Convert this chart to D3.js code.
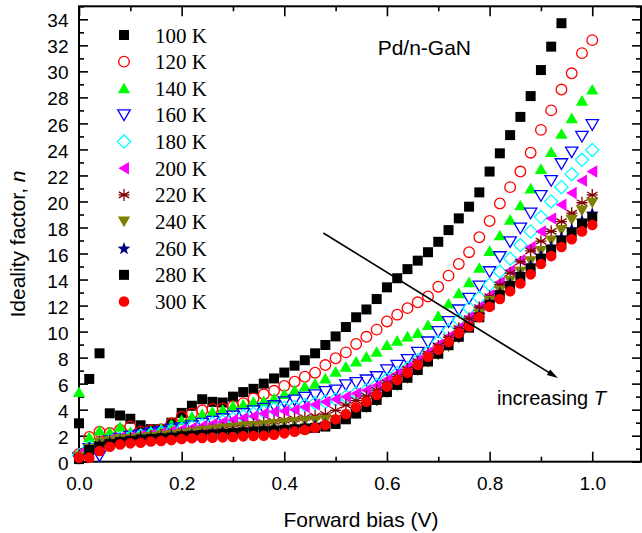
<!DOCTYPE html>
<html>
<head>
<meta charset="utf-8">
<script src="https://cdn.jsdelivr.net/npm/d3@7"></script>
<style>
  body { margin: 0; background: #fff; }
  svg { display: block; }
</style>
</head>
<body>
<svg id="chart" width="642" height="533"></svg>
<script>
// Forward bias grid (V)
const bias = [0.00, 0.02, 0.04, 0.06, 0.08, 0.10, 0.12, 0.14, 0.16, 0.18,
              0.20, 0.22, 0.24, 0.26, 0.28, 0.30, 0.32, 0.34, 0.36, 0.38,
              0.40, 0.42, 0.44, 0.46, 0.48, 0.50, 0.52, 0.54, 0.56, 0.58,
              0.60, 0.62, 0.64, 0.66, 0.68, 0.70, 0.72, 0.74, 0.76, 0.78,
              0.80, 0.82, 0.84, 0.86, 0.88, 0.90, 0.92, 0.94, 0.96, 0.98, 1.00];

const temperatures = ["100 K", "120 K", "140 K", "160 K", "180 K", "200 K",
                      "220 K", "240 K", "260 K", "280 K", "300 K"];

// Ideality factor n at each bias, one list per temperature
const n100 = [2.95, 6.36, 8.33, 3.72, 3.55, 3.30, 2.80, 2.50, 2.50, 3.00,
              3.75, 4.30, 4.80, 4.60, 4.55, 5.00, 5.35, 5.60, 6.00, 6.40,
              6.85, 7.38, 7.80, 8.33, 8.97, 9.63, 10.35, 11.10, 11.70, 12.50,
              13.40, 14.10, 14.80, 15.45, 16.10, 16.90, 17.80, 18.70, 19.60, 20.70,
              22.30, 23.70, 25.10, 26.50, 28.10, 30.10, 31.90, 33.70];
const n120 = [0.6, 1.9, 2.3, 2.2, 2.45, 2.7, 2.3, 2.4, 2.5, 2.95,
              3.45, 3.7, 3.95, 4.05, 4.1, 4.25, 4.5, 4.87, 5.18, 5.45,
              5.82, 6.15, 6.53, 6.84, 7.43, 7.95, 8.4, 9.05, 9.6, 10.15,
              10.78, 11.3, 11.8, 12.25, 12.7, 13.45, 14.3, 15.2, 16.1, 17.25,
              18.5, 19.85, 21.1, 22.3, 23.75, 25.5, 27.0, 28.6, 29.85, 31.4, 32.4];
const n140 = [5.35, 1.9, 2.4, 2.28, 2.69, 2.3, 2.2, 2.35, 2.55, 2.87,
              3.2, 3.46, 3.65, 3.85, 4.0, 4.3, 4.4, 4.6, 4.67, 4.87,
              5.2, 5.5, 5.77, 6.0, 6.4, 6.92, 7.3, 7.7, 8.07, 8.45,
              8.97, 9.3, 9.63, 9.9, 10.5, 11.2, 12.15, 12.95, 13.8, 14.9,
              16.2, 17.4, 18.6, 19.7, 21.0, 22.5, 23.8, 25.2, 26.4, 27.75, 28.6];
const n160 = [0.3, 1.0, 0.45, 1.6, 1.8, 1.95, 2.05, 2.2, 2.3, 2.5,
              2.6, 2.75, 2.95, 3.1, 3.3, 3.5, 3.7, 3.9, 4.1, 4.3,
              4.6, 4.74, 4.95, 5.13, 5.38, 5.5, 5.9, 6.07, 6.28, 6.53,
              7.05, 7.4, 7.85, 8.4, 9.2, 10.0, 10.76, 11.66, 12.56, 13.5,
              14.6, 15.75, 16.9, 17.95, 19.1, 20.45, 21.6, 22.9, 23.8, 25.0, 25.9];
const n180 = [0.5, 1.1, 1.4, 1.6, 1.75, 1.9, 2.0, 2.1, 2.25, 2.4,
              2.5, 2.65, 2.8, 2.95, 3.1, 3.3, 3.5, 3.7, 3.85, 4.05,
              4.15, 4.2, 4.35, 4.5, 4.6, 4.8, 5.0, 5.26, 5.5, 5.9,
              6.33, 6.8, 7.2, 7.8, 8.4, 9.2, 10.1, 10.9, 11.8, 12.6,
              13.6, 14.6, 15.6, 16.65, 17.7, 18.8, 20.0, 21.1, 22.1, 23.2, 23.95];
const n200 = [0.6, 1.0, 1.5, 1.7, 1.8, 1.9, 2.0, 2.1, 2.2, 2.35,
              2.5, 2.6, 2.75, 2.9, 3.05, 3.2, 3.35, 3.5, 3.7, 3.84,
              3.9, 4.0, 4.2, 4.4, 4.6, 4.8, 5.0, 5.25, 5.5, 5.85,
              6.3, 6.75, 7.25, 7.8, 8.4, 9.0, 9.6, 10.3, 11.1, 11.9,
              12.8, 13.8, 14.7, 15.5, 16.5, 17.7, 18.7, 19.75, 20.65, 21.6, 22.3];
const n220 = [0.5, 1.05, 1.55, 1.65, 1.75, 1.8, 1.9, 1.95, 2.05, 2.1,
              2.2, 2.3, 2.4, 2.5, 2.6, 2.7, 2.8, 2.9, 3.0, 3.1,
              3.2, 3.3, 3.4, 3.5, 3.65, 3.95, 4.35, 4.7, 5.05, 5.5,
              6.05, 6.55, 7.1, 7.7, 8.3, 8.9, 9.55, 10.25, 11.0, 11.85,
              12.7, 13.6, 14.5, 15.35, 16.2, 16.95, 17.7, 18.45, 19.1, 19.9, 20.5];
const n240 = [0.4, 1.0, 1.5, 1.6, 1.7, 1.75, 1.85, 1.9, 2.0, 2.05,
              2.15, 2.25, 2.35, 2.45, 2.55, 2.6, 2.7, 2.75, 2.8, 2.9,
              3.0, 3.05, 3.1, 3.15, 3.2, 3.2, 3.35, 3.7, 4.15, 4.65,
              5.3, 5.85, 6.4, 7.0, 7.65, 8.2, 8.85, 9.5, 10.35, 11.35,
              12.35, 13.15, 13.9, 14.6, 15.4, 16.2, 17.0, 17.8, 18.6, 19.3, 19.9];
const n260 = [0.3, 1.0, 1.3, 1.5, 1.6, 1.7, 1.8, 1.85, 1.9, 2.0,
              2.05, 2.1, 2.15, 2.2, 2.3, 2.35, 2.4, 2.45, 2.5, 2.55,
              2.6, 2.65, 2.7, 2.8, 2.9, 3.1, 3.45, 3.9, 4.4, 4.9,
              5.5, 6.05, 6.6, 7.2, 7.85, 8.45, 9.1, 9.75, 10.45, 11.3,
              12.2, 13.0, 13.7, 14.4, 15.1, 15.85, 16.55, 17.25, 17.9, 18.55, 19.1];
const n280 = [0.2, 0.9, 1.15, 1.35, 1.5, 1.6, 1.7, 1.75, 1.8, 1.85,
              1.95, 2.0, 2.05, 2.1, 2.15, 2.2, 2.25, 2.3, 2.35, 2.4,
              2.45, 2.5, 2.55, 2.6, 2.7, 2.9, 3.26, 3.7, 4.2, 4.75,
              5.35, 5.9, 6.45, 7.05, 7.7, 8.3, 8.95, 9.6, 10.3, 11.1,
              12.05, 12.8, 13.5, 14.2, 14.85, 15.6, 16.3, 17.0, 17.6, 18.3, 18.8];
const n300 = [0.31, 0.31, 0.82, 1.15, 1.33, 1.41, 1.46, 1.55, 1.6, 1.66,
              1.74, 1.8, 1.82, 1.85, 1.87, 1.9, 1.95, 1.97, 2.0, 2.08,
              2.18, 2.31, 2.44, 2.6, 2.82, 3.26, 3.67, 4.18, 4.61, 5.13,
              5.77, 6.28, 6.84, 7.43, 8.07, 8.6, 9.2, 9.87, 10.4, 11.1,
              11.9, 12.5, 13.1, 13.7, 14.4, 15.2, 15.8, 16.5, 17.1, 17.7, 18.2];

const seriesValues = [n100, n120, n140, n160, n180, n200, n220, n240, n260, n280, n300];

const xMajorTicks = [0.0, 0.2, 0.4, 0.6, 0.8, 1.0];
const xMinorTicks = [0.1, 0.3, 0.5, 0.7, 0.9];
const yMajorTicks = [0, 2, 4, 6, 8, 10, 12, 14, 16, 18, 20, 22, 24, 26, 28, 30, 32, 34];
const yMinorTicks = [1, 3, 5, 7, 9, 11, 13, 15, 17, 19, 21, 23, 25, 27, 29, 31, 33, 35];

// Marker styles per temperature
const styles = [
  { shape: "square",   color: "#000000", open: false },
  { shape: "circle",   color: "#ff0000", open: true  },
  { shape: "triUp",    color: "#00ff00", open: false },
  { shape: "triDown",  color: "#0000ff", open: true  },
  { shape: "diamond",  color: "#00ffff", open: true  },
  { shape: "triLeft",  color: "#ff00ff", open: false },
  { shape: "asterisk", color: "#800000", open: true  },
  { shape: "triDown",  color: "#808000", open: false },
  { shape: "star",     color: "#000080", open: false },
  { shape: "square",   color: "#000000", open: false },
  { shape: "circle",   color: "#ff0000", open: false }
];

function markerPath(shape) {
  const p = d3.path();
  switch (shape) {
    case "square":
      p.rect(-5, -5, 10, 10); break;
    case "circle":
      p.moveTo(5.3, 0); p.arc(0, 0, 5.3, 0, 2 * Math.PI); p.closePath(); break;
    case "triUp":
      p.moveTo(0, -5.6); p.lineTo(6.2, 5.0); p.lineTo(-6.2, 5.0); p.closePath(); break;
    case "triDown":
      p.moveTo(0, 5.6); p.lineTo(6.2, -5.0); p.lineTo(-6.2, -5.0); p.closePath(); break;
    case "triLeft":
      p.moveTo(-5.6, 0); p.lineTo(5.0, -6.2); p.lineTo(5.0, 6.2); p.closePath(); break;
    case "diamond":
      p.moveTo(0, -6.6); p.lineTo(6.6, 0); p.lineTo(0, 6.6); p.lineTo(-6.6, 0); p.closePath(); break;
    case "asterisk": {
      const r = 6;
      [90, 30, 150].forEach(a => {
        const t = a * Math.PI / 180;
        p.moveTo(r * Math.cos(t), -r * Math.sin(t));
        p.lineTo(-r * Math.cos(t), r * Math.sin(t));
      });
      p.moveTo(-5.5, 0); p.lineTo(5.5, 0);
      break;
    }
    case "star": {
      const ro = 6.8, ri = 2.8;
      for (let k = 0; k < 10; k++) {
        const r = k % 2 === 0 ? ro : ri;
        const t = -Math.PI / 2 + k * Math.PI / 5;
        const px = r * Math.cos(t), py = r * Math.sin(t) + 0.6;
        if (k === 0) p.moveTo(px, py); else p.lineTo(px, py);
      }
      p.closePath();
      break;
    }
  }
  return p.toString();
}

function applyStyle(sel, st) {
  if (st.open) {
    sel.attr("fill", "none").attr("stroke", st.color).attr("stroke-width", 1.3);
  } else {
    sel.attr("fill", st.color).attr("stroke", "none");
  }
}

const svg = d3.select("#chart");
svg.append("rect").attr("width", 642).attr("height", 533).attr("fill", "#fff");

const plot = { left: 79, right: 641, top: 6.3, bottom: 461.7 };
const x = d3.scaleLinear().domain([0, 1.095]).range([plot.left, plot.right]);
const y = d3.scaleLinear().domain([0, 35]).range([plot.bottom, plot.top]);

const tickFont = "'Liberation Sans', Arial, sans-serif";

// Axes (ticks point inward)
const gx = svg.append("g").attr("transform", `translate(0,${plot.bottom})`)
  .call(d3.axisBottom(x).tickValues(xMajorTicks).tickSize(-10).tickPadding(15)
    .tickFormat(d3.format(".1f")));
const gxm = svg.append("g").attr("transform", `translate(0,${plot.bottom})`)
  .call(d3.axisBottom(x).tickValues(xMinorTicks).tickSize(-5).tickFormat(""));
const gxt = svg.append("g").attr("transform", `translate(0,${plot.top})`)
  .call(d3.axisTop(x).tickValues(xMajorTicks).tickSize(-10).tickFormat(""));
const gxtm = svg.append("g").attr("transform", `translate(0,${plot.top})`)
  .call(d3.axisTop(x).tickValues(xMinorTicks).tickSize(-5).tickFormat(""));

const gy = svg.append("g").attr("transform", `translate(${plot.left},0)`)
  .call(d3.axisLeft(y).tickValues(yMajorTicks).tickSize(-9).tickPadding(10.5)
    .tickFormat(d3.format("d")));
const gym = svg.append("g").attr("transform", `translate(${plot.left},0)`)
  .call(d3.axisLeft(y).tickValues(yMinorTicks).tickSize(-5).tickFormat(""));
const gyr = svg.append("g").attr("transform", `translate(${plot.right},0)`)
  .call(d3.axisRight(y).tickValues(yMajorTicks).tickSize(-9).tickFormat(""));
const gyrm = svg.append("g").attr("transform", `translate(${plot.right},0)`)
  .call(d3.axisRight(y).tickValues(yMinorTicks).tickSize(-5).tickFormat(""));

[gx, gxm, gxt, gxtm, gy, gym, gyr, gyrm].forEach(g => {
  g.select(".domain").remove();
  g.selectAll(".tick line").attr("stroke", "#000").attr("stroke-width", 1.6);
  g.selectAll(".tick text").attr("fill", "#000")
    .style("font-family", tickFont).style("font-size", "19px");
});
gy.selectAll(".tick text").attr("dy", "0.40em");

// Frame
svg.append("rect")
  .attr("x", plot.left).attr("y", plot.top)
  .attr("width", plot.right - plot.left).attr("height", plot.bottom - plot.top)
  .attr("fill", "none").attr("stroke", "#000").attr("stroke-width", 2);

// Data markers, lowest temperature first
seriesValues.forEach((vals, si) => {
  const st = styles[si];
  const pts = vals.map((v, i) => [bias[i], v]);
  const g = svg.append("g").attr("class", "series");
  const marks = g.selectAll("path").data(pts).join("path")
    .attr("d", markerPath(st.shape))
    .attr("transform", d => `translate(${x(d[0])},${y(d[1])})`);
  applyStyle(marks, st);
});

// Legend
const legend = svg.append("g");
temperatures.forEach((label, i) => {
  const cy = 35 + 26.65 * i;
  const m = legend.append("path").attr("d", markerPath(styles[i].shape))
    .attr("transform", `translate(124,${cy})`);
  applyStyle(m, styles[i]);
  legend.append("text").attr("x", 155).attr("y", cy + 7.5)
    .style("font-family", "'Liberation Serif', 'Times New Roman', serif")
    .style("font-size", "21px").attr("fill", "#000").text(label);
});

// Sample label
svg.append("text").attr("x", 471).attr("y", 55).attr("text-anchor", "end")
  .style("font-family", tickFont).style("font-size", "21px").text("Pd/n-GaN");

// Trend arrow
const arrowFrom = [0.476, 17.58], arrowTo = [0.933, 6.43];
const ax0 = x(arrowFrom[0]), ay0 = y(arrowFrom[1]);
const ax1 = x(arrowTo[0]), ay1 = y(arrowTo[1]);
const ang = Math.atan2(ay1 - ay0, ax1 - ax0);
const headLen = 11, headW = 3.2;
svg.append("line")
  .attr("x1", ax0).attr("y1", ay0)
  .attr("x2", ax1 - Math.cos(ang) * headLen * 0.8).attr("y2", ay1 - Math.sin(ang) * headLen * 0.8)
  .attr("stroke", "#000").attr("stroke-width", 1.6);
const bx = ax1 - Math.cos(ang) * headLen, by = ay1 - Math.sin(ang) * headLen;
svg.append("path")
  .attr("d", `M${ax1},${ay1}L${bx - Math.sin(ang) * headW},${by + Math.cos(ang) * headW}` +
             `L${bx + Math.sin(ang) * headW},${by - Math.cos(ang) * headW}Z`)
  .attr("fill", "#000");

const incr = svg.append("text").attr("x", 497).attr("y", 405)
  .style("font-family", tickFont).style("font-size", "20px").attr("fill", "#000");
incr.append("tspan").text("increasing ");
incr.append("tspan").style("font-style", "italic").text("T");

// Axis titles
svg.append("text").attr("x", 361).attr("y", 527).attr("text-anchor", "middle")
  .style("font-family", tickFont).style("font-size", "21px").text("Forward bias (V)");

const yt = svg.append("text")
  .attr("transform", "translate(25,244) rotate(-90)").attr("text-anchor", "middle")
  .style("font-family", tickFont).style("font-size", "21px");
yt.append("tspan").text("Ideality factor, ");
yt.append("tspan").style("font-style", "italic").text("n");
</script>
</body>
</html>
